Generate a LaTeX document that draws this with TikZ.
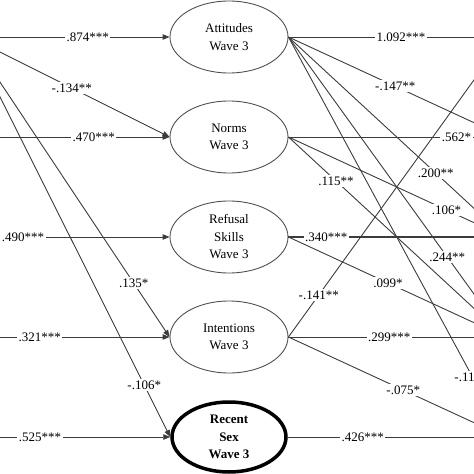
\documentclass[tikz,border=0pt]{standalone}
\usepackage{fontspec}
\setmainfont{Liberation Serif}
\usetikzlibrary{arrows.meta,shapes.geometric}
\definecolor{linegray}{HTML}{3C3C3C}
\definecolor{ellborder}{HTML}{505050}
\begin{document}
\begin{tikzpicture}[x=1pt,y=-1pt,
 var/.style={ellipse, draw=ellborder, line width=0.9pt, minimum width=118pt, minimum height=72pt, inner sep=0pt, align=center, font=\fontsize{13}{17.5}\selectfont, text=black},
 outcome/.style={var, draw=black, line width=3.5pt, minimum width=114pt, minimum height=70pt, font=\fontsize{13}{17.5}\selectfont\bfseries},
 conn/.style={draw=linegray, line width=0.9pt},
 arr/.style={conn, -{Triangle[length=7pt,width=5.5pt]}},
 lbl/.style={fill=white, inner sep=1.5pt, font=\fontsize{13}{15}\selectfont, text=black},
]
\useasboundingbox (0,0) rectangle (474,474);
\clip (0,0) rectangle (474,474);

\node[var] (att3) at (229,37) {Attitudes\\Wave 3};
\node[var] (nor3) at (229,137) {Norms\\Wave 3};
\node[var] (ref3) at (229,237) {Refusal\\Skills\\Wave 3};
\node[var] (int3) at (229,337) {Intentions\\Wave 3};
\node[outcome] (sex3) at (229,437) {Recent\\Sex\\Wave 3};

\coordinate (att2) at (-30,37);
\coordinate (nor2) at (-30,137);
\coordinate (ref2) at (-30,237);
\coordinate (int2) at (-30,337);
\coordinate (sex2) at (-30,437);
\coordinate (att4) at (505,37);
\coordinate (nor4) at (505,137);
\coordinate (ref4) at (505,237);
\coordinate (int4) at (505,337);
\coordinate (sex4) at (505,437);

% left side
\draw[arr] (att2) -- node[lbl,pos=0.59]{.874***} (att3.west);
\draw[arr] (att2) -- node[lbl,pos=0.51]{-.134**} (nor3.west);
\draw[arr] (nor2) -- node[lbl,pos=0.62]{.470***} (nor3.west);
\draw[arr] (ref2) -- node[lbl,pos=0.265]{.490***} (ref3.west);
\draw[arr] (att2) -- node[lbl,pos=0.82]{.135*} (int3.west);
\draw[arr] (int2) -- node[lbl,pos=0.35]{.321***} (int3.west);
\draw[arr] (att2) -- node[lbl,pos=0.87]{-.106*} (sex3.west);
\draw[arr] (sex2) -- node[lbl,pos=0.35]{.525***} (sex3.west);

% right side
\draw[conn] (att3.east) -- node[lbl,pos=0.52]{1.092***} (att4);
\draw[conn] (att3.east) -- node[lbl,pos=0.493]{-.147**} (nor4);
\draw[conn] (att3.east) -- node[lbl,pos=0.68]{.200**} (ref4);
\draw[conn] (att3.east) -- node[lbl,pos=0.733]{.244**} (int4);
\draw[conn] (att3.east) -- node[lbl,pos=0.85,anchor=west,xshift=-20pt]{-.11} (sex4);
\draw[conn] (nor3.east) -- node[lbl,pos=0.7,anchor=west]{.562*} (nor4);
\draw[conn] (nor3.east) -- node[lbl,pos=0.73]{.106*} (ref4);
\draw[conn] (nor3.east) -- node[lbl,pos=0.22]{.115**} (int4);
\draw[conn,line width=1.3pt] (ref3.east) -- node[lbl,pos=0.175]{.340***} (ref4);
\draw[conn] (ref3.east) -- node[lbl,pos=0.46]{.099*} (int4);
\draw[conn] (int3.east) -- node[lbl,pos=0.465]{.299***} (int4);
\draw[conn] (int3.east) -- node[lbl,pos=0.14]{-.141**} (att4);
\draw[conn] (int3.east) -- node[lbl,pos=0.53]{-.075*} (sex4);
\draw[conn] (sex3.east) -- node[lbl,pos=0.345]{.426***} (sex4);
\end{tikzpicture}
\end{document}
